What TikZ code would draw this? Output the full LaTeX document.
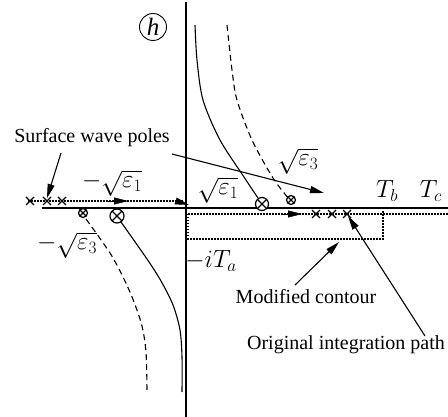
\documentclass[tikz,border=0pt]{standalone}
\usepackage{fontspec}
\setmainfont{Liberation Serif}
\usetikzlibrary{arrows.meta}
\begin{document}
\begin{tikzpicture}[x=1pt,y=-1pt,
  axisline/.style={line width=1.5pt},
  dotline/.style={line width=1.5pt,dash pattern=on 1.5pt off 1.5pt},
  curveline/.style={line width=1.1pt},
  dashcurve/.style={line width=1.1pt,dash pattern=on 6pt off 4pt},
  tip/.style={-{Triangle[length=14pt,width=7pt]}},
  pointer/.style={line width=1.1pt,-{Triangle[length=14pt,width=7pt]}},
  lbl/.style={font=\fontsize{20}{22}\selectfont,inner sep=0pt},
  mlbl/.style={font=\fontsize{26}{28}\selectfont,inner sep=0pt},
  pole/.style={line width=1.3pt},
]
\useasboundingbox (0,0) rectangle (448,417);

% axes
\draw[axisline] (186,2) -- (186,417);
\draw[axisline] (42,208) -- (448,208);

% dotted contour left (above axis)
\coordinate (l0) at (28,201);
\coordinate (l1) at (183,201);
\draw[dotline] (l0) -- (l1);
\draw[tip] (108,201) -- (128,201);
\draw[tip] (176,201) -- (189,205);

% dotted contour right (below axis) and modified contour
\coordinate (r0) at (188,214);
\coordinate (r1) at (448,214);
\draw[dotline] (r0) -- (r1);
\draw[tip] (283,214) -- (302,214);
\coordinate (m0) at (188,239);
\coordinate (m1) at (383,239);
\coordinate (m2) at (383,210);
\draw[dotline] (r0) -- (m0) -- (m1) -- (m2);

% poles (crosses)
\foreach \px in {30,47,62} {
  \draw[pole] (\px-4,197) -- (\px+4,205) (\px-4,205) -- (\px+4,197);
}
\foreach \px in {316,332,347} {
  \draw[pole] (\px-4,210) -- (\px+4,218) (\px-4,218) -- (\px+4,210);
}

% curves
\draw[curveline] plot[smooth] coordinates {(195,25) (197,60) (203,100) (220,140) (244,177) (258,198)};
\draw[dashcurve] plot[smooth] coordinates {(227,25) (232,70) (237,100) (252,140) (273,178) (289,199)};
\draw[curveline] plot[smooth] coordinates {(121,222) (147,259) (161,281) (173,305) (180,330) (182,357) (182,392)};
\draw[dashcurve] plot[smooth] coordinates {(86,219) (110,253) (124,279) (134,302) (142,326) (146,352) (147,390)};

% branch point markers
\foreach \cx/\cy/\r in {117/216/7, 262/204/6.5} {
  \draw[line width=1.2pt,fill=white] (\cx,\cy) circle (\r);
  \draw[line width=1.2pt] (\cx-0.7*\r,\cy-0.7*\r) -- (\cx+0.7*\r,\cy+0.7*\r)
                          (\cx-0.7*\r,\cy+0.7*\r) -- (\cx+0.7*\r,\cy-0.7*\r);
}
\foreach \cx/\cy in {83/213, 291/200} {
  \draw[line width=1.2pt,fill=white] (\cx,\cy) circle (4.5);
  \draw[line width=1.1pt] (\cx-3,\cy-3) -- (\cx+3,\cy+3) (\cx-3,\cy+3) -- (\cx+3,\cy-3);
}

% label h
\node[draw,circle,line width=0.9pt,inner sep=0pt,minimum size=27pt,font=\fontsize{25}{27}\selectfont\itshape] (h) at (153,27) {h};

% math labels
\node[mlbl] (e1m) at (112,183) {$-\sqrt{\varepsilon_1}$};
\node[mlbl] (e1p) at (218,190) {$\sqrt{\varepsilon_1}$};
\node[mlbl] (e3p) at (298,161) {$\sqrt{\varepsilon_3}$};
\node[mlbl] (e3m) at (67,245) {$-\sqrt{\varepsilon_3}$};
\node[mlbl] (ta) at (211,261) {$-iT_a$};
\node[mlbl] (tb) at (387,191) {$T_b$};
\node[mlbl] (tc) at (431,191) {$T_c$};

% text labels and pointers
\node[lbl] (swp) at (92,138) {Surface wave poles};
\node[lbl] (mc) at (306,297) {Modified contour};
\node[lbl] (oip) at (346,345) {Original integration path};

\coordinate (swpA) at (61,153);
\coordinate (swpB) at (172,154);
\coordinate (mcA) at (295,285);
\coordinate (oipA) at (425,336);
\draw[pointer] (swpA) -- (47,198);
\draw[pointer] (swpB) -- (324,193);
\draw[pointer] (mcA) -- (339,242);
\draw[pointer] (oipA) -- (348,216);
\end{tikzpicture}
\end{document}
